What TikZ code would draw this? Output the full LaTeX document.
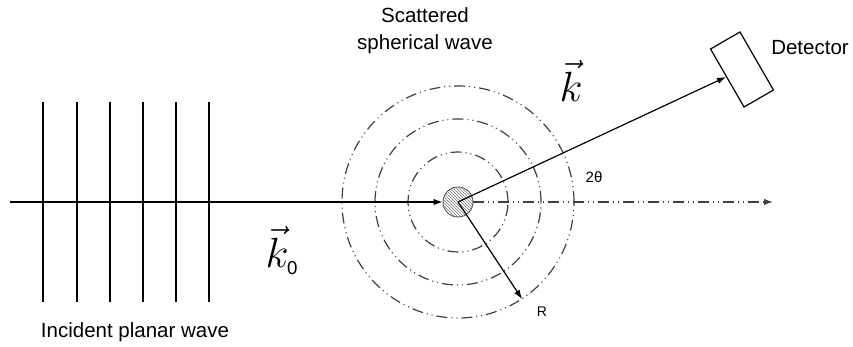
\documentclass[tikz,border=0pt]{standalone}
\usepackage{amssymb}
\usepackage{fontspec}
\setmainfont{Liberation Sans}
\usetikzlibrary{arrows.meta,patterns}

\begin{document}
\begin{tikzpicture}[x=1pt,y=1pt,
    tip/.style={-{Latex[length=9pt,width=6.5pt]}},
    ray/.style={line width=1.2pt,tip},
    wavefront/.style={line width=1.2pt,black!75,dash pattern=on 11pt off 4pt on 1pt off 4pt on 1pt off 4pt},
    lbl/.style={font=\fontsize{20.5}{27}\selectfont},
    small/.style={font=\fontsize{14}{16}\selectfont},
    kvec/.style={anchor=base,font=\Huge,scale=1.7,inner sep=0pt}]
              \useasboundingbox (0,0) rectangle (853,347);
              % incident plane wave fronts
              \foreach \x in {43,77,110,143,176,209}
                \draw[line width=1.2pt] (\x,45) -- (\x,245);
              \node[lbl,anchor=base] (inc) at (135,9) {Incident planar wave};
              % scatterer and spherical wave fronts
              \node[circle,draw=black!70,line width=0.8pt,minimum size=30,inner sep=0pt,
                    pattern=north west lines,pattern color=black!55] (sc) at (458,145) {};
              \foreach \r in {50,83,116}
                \draw[wavefront] (sc.center) circle (\r);
              \node[lbl,anchor=base,align=center] (sph) at (425,297) {Scattered\\spherical wave};
              % beams
              \coordinate (src) at (10,145);
              \coordinate (axend) at (773,145);
              \coordinate (rend) at (522,48);
              \draw[ray] (src) -- (sc);
              \draw[wavefront,tip] (sc) -- (axend);
              \node[draw,line width=1.2pt,rotate=30,minimum width=34,minimum height=67,inner sep=0pt] (det) at (742,277.5) {};
              \node[lbl,anchor=base] (detl) at (810,292) {Detector};
              \draw[ray] (sc.center) -- (det);
              \draw[ray] (sc.center) -- (rend);
              \node[small,anchor=base] (rl) at (542,30) {R};
              \node[font=\fontsize{15}{17}\selectfont,anchor=base] (tth) at (594,164) {2θ};
              % wave vectors
              \node[kvec] (kin) at (282,79) {$\vec{k}_{\mbox{\fontsize{11}{11}\selectfont 0}}$};
              \node[kvec] (kout) at (571,245) {$\vec{k}$};
            \end{tikzpicture}
\end{document}
